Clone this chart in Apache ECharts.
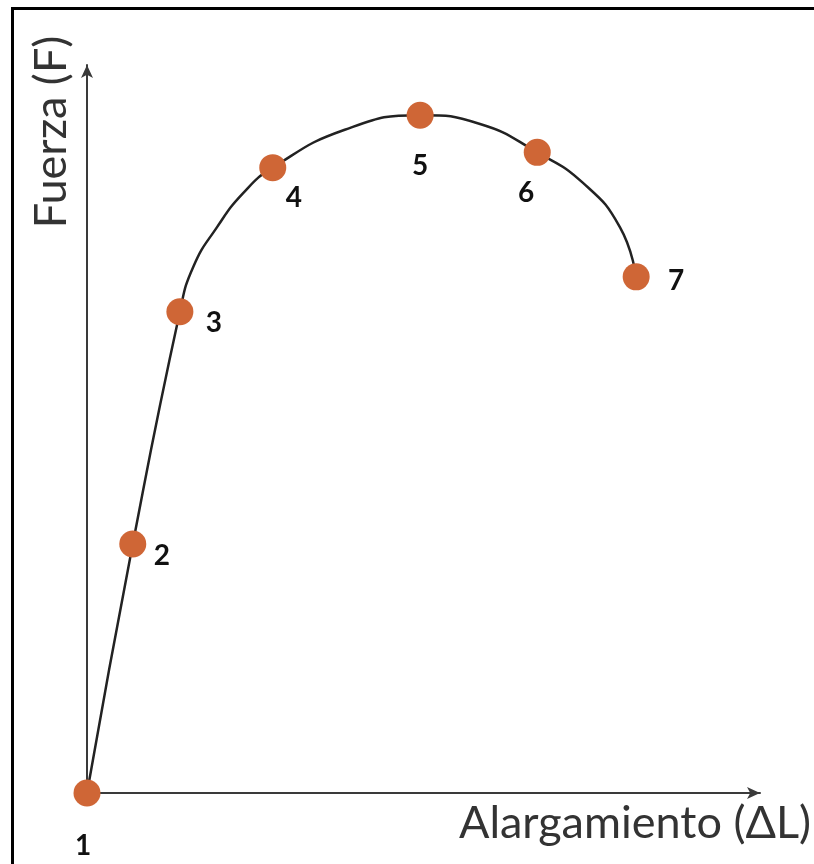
<!DOCTYPE html>
<html>
<head>
<meta charset="utf-8">
<script src="https://cdn.jsdelivr.net/npm/echarts@6/dist/echarts.min.js"></script>
<style>
  html, body { margin: 0; padding: 0; background: #fff; overflow: hidden; }
  #content_data { width: 814px; height: 864px; }
</style>
</head>
<body>
<div id="content_data"></div>
<script>
// marked points 1..7 (arbitrary units, 0-100 on both axes)
const pointLabels = ['1', '2', '3', '4', '5', '6', '7'];
const pointX = [0, 6.8, 13.8, 27.6, 49.5, 66.9, 81.6];
const pointY = [0, 34.2, 66.1, 85.9, 93.1, 88.0, 70.9];

// traced curve through the points
const curveX = [0, 6.8, 13.8, 15.8, 19.3, 23.2, 27.6, 38.3, 49.5, 58.4, 66.9, 73.7, 79.2, 81.6];
const curveY = [0, 34.2, 66.1, 72.3, 77.7, 82.4, 85.9, 91.1, 93.1, 91.9, 88.0, 83.8, 77.7, 70.9];

const xTitle = 'Alargamiento (ΔL)';
const yTitle = 'Fuerza (F)';

// where each number sits around its dot
const labelOffsets = [[-4, 53], [29, 12], [34, 11], [21, 30], [0, 51], [-11, 41], [40, 4]];

let Chart = echarts.init(document.getElementById('content_data'));

const axisStyle = {
    show: true,
    symbol: ['none', 'arrow'],
    symbolSize: [9, 13],
    lineStyle: { color: '#3a3a3a', width: 2 }
};

Chart.setOption({
    animation: false,
    grid: { left: 87, right: 54, top: 65, bottom: 71 },
    xAxis: {
        type: 'value', min: 0, max: 100,
        axisLine: axisStyle,
        axisTick: { show: false }, axisLabel: { show: false }, splitLine: { show: false }
    },
    yAxis: {
        type: 'value', min: 0, max: 100,
        axisLine: axisStyle,
        axisTick: { show: false }, axisLabel: { show: false }, splitLine: { show: false }
    },
    graphic: [
        {
            type: 'line', z: 100, silent: true,
            shape: { x1: 12.5, y1: 7, x2: 12.5, y2: 864 },
            style: { stroke: '#000', lineWidth: 3 }
        },
        {
            type: 'line', z: 100, silent: true,
            shape: { x1: 11, y1: 8.5, x2: 814, y2: 8.5 },
            style: { stroke: '#000', lineWidth: 3 }
        },
        {
            type: 'text', left: 459, top: 801,
            style: { text: xTitle, font: '45px Lato', fill: '#333' }
        },
        {
            type: 'text', x: 51, y: 132, rotation: Math.PI / 2,
            style: { text: yTitle, font: '45px Lato', fill: '#333', align: 'center', verticalAlign: 'middle' }
        }
    ],
    series: [
        {
            type: 'line',
            smooth: 0.5,
            showSymbol: false,
            lineStyle: { color: '#222', width: 2.5 },
            data: curveX.map((x, i) => [x, curveY[i]]),
            z: 2
        },
        {
            type: 'scatter',
            symbolSize: 27,
            itemStyle: { color: '#cf6636', opacity: 1 },
            z: 3,
            data: pointX.map((x, i) => ({
                value: [x, pointY[i]],
                name: pointLabels[i],
                label: { offset: labelOffsets[i] }
            })),
            label: {
                show: true,
                position: 'inside',
                formatter: '{b}',
                color: '#111',
                fontFamily: 'Lato',
                fontWeight: 'bold',
                fontSize: 28
            }
        }
    ]
});
</script>
</body>
</html>
